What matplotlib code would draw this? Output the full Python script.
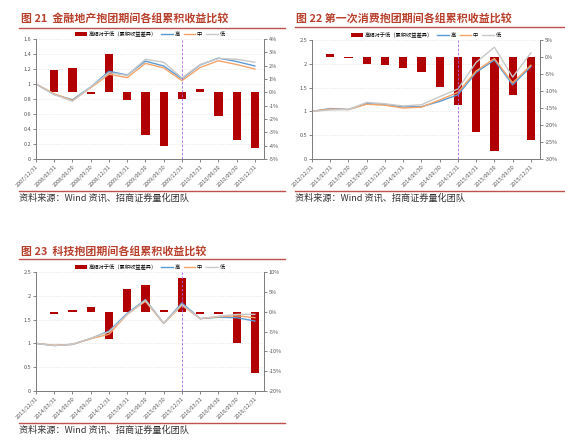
import numpy as np
import matplotlib.pyplot as plt
from matplotlib.ticker import FuncFormatter, MultipleLocator

plt.rcParams['font.family'] = ['Noto Sans CJK SC', 'DejaVu Sans']

# ---------------- data ----------------
dates21 = ['2007/12/31', '2008/03/31', '2008/06/30', '2008/09/30', '2008/12/31', '2009/03/31',
           '2009/06/30', '2009/09/30', '2009/12/31', '2010/03/31', '2010/06/30', '2010/09/30', '2010/12/31']
high21 = [1.0, 0.86, 0.79, 0.96, 1.17, 1.12, 1.305, 1.24, 1.07, 1.255, 1.345, 1.30, 1.24]
mid21 = [1.0, 0.87, 0.78, 0.95, 1.13, 1.085, 1.275, 1.215, 1.045, 1.22, 1.31, 1.26, 1.20]
low21 = [1.0, 0.86, 0.77, 0.96, 1.15, 1.115, 1.33, 1.29, 1.08, 1.26, 1.34, 1.33, 1.29]
diff21 = [1.7, 1.8, -0.15, 2.9, -0.58, -3.2, -4.0, -0.5, 0.25, -1.8, -3.6, -4.2]

dates22 = ['2012/12/31', '2013/03/31', '2013/06/30', '2013/09/30', '2013/12/31', '2014/03/31',
           '2014/06/30', '2014/09/30', '2014/12/31', '2015/03/31', '2015/06/30', '2015/09/30', '2015/12/31']
high22 = [1.0, 1.06, 1.04, 1.165, 1.145, 1.095, 1.10, 1.21, 1.35, 1.82, 2.08, 1.56, 1.94]
mid22 = [1.0, 1.05, 1.04, 1.15, 1.13, 1.07, 1.09, 1.24, 1.40, 1.85, 2.11, 1.60, 1.97]
low22 = [1.0, 1.03, 1.04, 1.19, 1.16, 1.115, 1.14, 1.31, 1.47, 2.03, 2.35, 1.72, 2.23]
diff22 = [0.9, -0.3, -2.0, -2.3, -3.2, -4.3, -8.7, -14.2, -22.0, -27.6, -11.1, -24.3]

dates23 = ['2013/12/31', '2014/03/31', '2014/06/30', '2014/09/30', '2014/12/31', '2015/03/31',
           '2015/06/30', '2015/09/30', '2015/12/31', '2016/03/31', '2016/06/30', '2016/09/30', '2016/12/31']
high23 = [1.0, 0.955, 0.98, 1.10, 1.26, 1.63, 1.92, 1.42, 1.85, 1.52, 1.55, 1.54, 1.47]
mid23 = [1.0, 0.96, 0.98, 1.10, 1.19, 1.61, 1.885, 1.42, 1.80, 1.52, 1.56, 1.58, 1.54]
low23 = [1.0, 0.955, 0.98, 1.11, 1.24, 1.61, 1.91, 1.42, 1.82, 1.52, 1.57, 1.61, 1.61]
diff23 = [-0.6, 0.5, 1.1, -6.8, 5.7, 6.6, 0.5, 8.6, -0.6, -0.6, -7.8, -15.4]

W, H = 565, 443
TITLE_C = '#b8402c'
LINE_C = '#c0504d'

fig = plt.figure(figsize=(W / 100, H / 100), dpi=100)


def px_axes(x0, y0, x1, y1):
    return fig.add_axes([x0 / W, 1 - y1 / H, (x1 - x0) / W, (y1 - y0) / H])


def hline(x0, x1, y):
    fig.add_artist(plt.Line2D([x0 / W, x1 / W], [1 - y / H, 1 - y / H], color=LINE_C, lw=1.0))


def panel(box, title, title_xy, top_line, src_line, dates, high, mid, low, diff,
          ylim, ystep, rlim, rstep):
    x0, y0, x1, y1 = box
    ax = px_axes(x0, y0, x1, y1)
    ax2 = ax.twinx()
    xs = np.arange(len(dates))

    # faint grid at the left-axis ticks, drawn behind the bars
    for v in np.arange(ylim[0] + ystep, ylim[1] + ystep / 2, ystep):
        r = rlim[0] + (v - ylim[0]) / (ylim[1] - ylim[0]) * (rlim[1] - rlim[0])
        ax2.axhline(r, color='#e4e4e4', lw=0.5, ls=(0, (2, 2)), zorder=0)

    bars = ax2.bar(xs[1:], diff, width=0.45, color='#b00000', zorder=2)
    ax2.set_ylim(*rlim)
    ax2.yaxis.set_major_locator(MultipleLocator(rstep))
    ax2.yaxis.set_major_formatter(FuncFormatter(lambda v, p: f'{v:.0f}%'))

    l1, = ax.plot(xs, high, color='#5b9bd5', lw=1.0)
    l2, = ax.plot(xs, mid, color='#f4a46a', lw=1.0)
    l3, = ax.plot(xs, low, color='#c8c8c8', lw=1.0)
    ax.axvline(8, color='#b060e0', lw=0.6, ls=(0, (3, 2)))
    ax.set_zorder(ax2.get_zorder() + 1)
    ax.patch.set_visible(False)

    ax.set_xlim(0, 12.5)
    ax.set_ylim(*ylim)
    ax.yaxis.set_major_locator(MultipleLocator(ystep))
    ax.yaxis.set_major_formatter(FuncFormatter(lambda v, p: f'{v:g}'))
    ax.set_xticks(xs)
    ax.set_xticklabels(dates, rotation=45, ha='right', rotation_mode='anchor', fontsize=3.2, color='#555555')

    for a in (ax, ax2):
        a.tick_params(labelsize=4, colors='#555555', length=2, width=0.5, pad=1.5)
        a.spines['top'].set_visible(False)
        for s in ('left', 'right', 'bottom'):
            a.spines[s].set_color('#7f7f7f')
            a.spines[s].set_linewidth(0.7)

    ax.legend([bars, l1, l2, l3], ['高相对于低（累积收益差异）', '高', '中', '低'],
              loc='center', bbox_to_anchor=(0.5, 1 + 5 / (y1 - y0)), ncol=4, frameon=False,
              fontsize=3.8, handlelength=2.2, handleheight=0.6, columnspacing=0.8, handletextpad=0.3)

    fig.text(title_xy[0] / W, 1 - title_xy[1] / H, title, fontsize=7.9, fontweight='bold',
             color=TITLE_C, va='center')
    hline(top_line[0], top_line[1], top_line[2])
    hline(src_line[0], src_line[1], src_line[2])
    fig.text(src_line[0] / W, 1 - (src_line[2] + 7) / H, '资料来源：Wind 资讯、招商证券量化团队',
             fontsize=6.6, color='#333333', va='center')


panel((36, 39, 264, 159), '图 21  金融地产抱团期间各组累积收益比较', (21, 18),
      (19, 285, 28), (19, 285, 191), dates21, high21, mid21, low21, diff21,
      (0, 1.6), 0.2, (-5, 4), 1)

panel((312, 40, 540, 159), '图 22 第一次消费抱团期间各组累积收益比较', (296, 18),
      (295, 565, 27), (295, 565, 191), dates22, high22, mid22, low22, diff22,
      (0, 2.5), 0.5, (-30, 5), 5)

panel((36, 272, 264, 391), '图 23  科技抱团期间各组累积收益比较', (21, 251),
      (19, 285, 259), (19, 285, 423), dates23, high23, mid23, low23, diff23,
      (0, 2.5), 0.5, (-20, 10), 5)

fig.savefig('out.png', dpi=100, facecolor='white')
